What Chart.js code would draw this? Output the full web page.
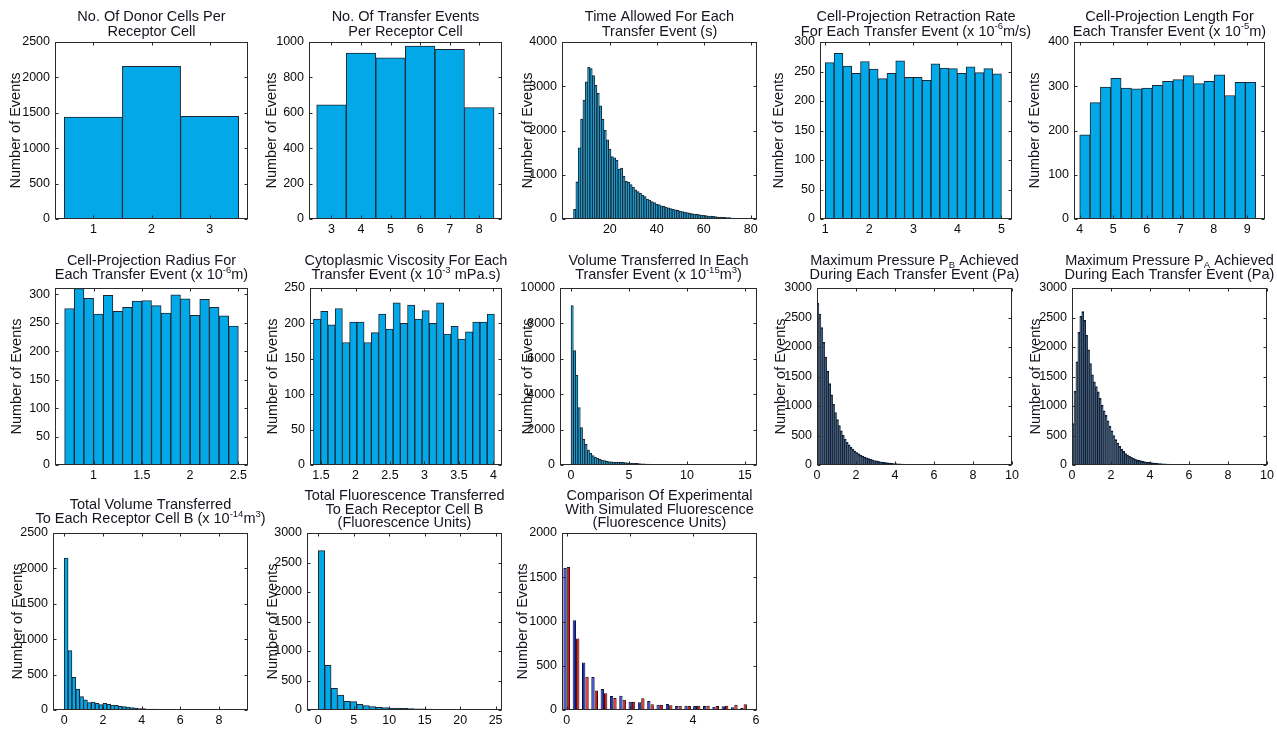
<!DOCTYPE html>
<html><head><meta charset="utf-8">
<script src="https://cdn.jsdelivr.net/npm/chart.js@4.4.0/dist/chart.umd.min.js"></script>
<style>
html,body{margin:0;padding:0;background:#fff;}
#wrap{position:relative;width:1277px;height:729px;overflow:hidden;background:#fff;}
#wrap canvas{position:absolute;}
</style></head><body><div id="wrap"></div>
<script>
// ---------------- DATA ----------------
// 1. No. of donor cells per receptor cell
const donorBins = [1, 2, 3];
const donorCounts = [1441, 2157, 1450];
const donorXTicks = [1, 2, 3];
const donorYTicks = [0, 500, 1000, 1500, 2000, 2500];

// 2. No. of transfer events per receptor cell
const eventsBins = [3, 4, 5, 6, 7, 8];
const eventsCounts = [645, 938, 911, 977, 958, 630];
const eventsXTicks = [3, 4, 5, 6, 7, 8];
const eventsYTicks = [0, 200, 400, 600, 800, 1000];

// 3. Time allowed for each transfer event (s), bins of 1 s starting at 4.5
const timeBinStart = 4.5, timeBinWidth = 1;
const timeCounts = [220, 840, 1610, 2260, 2690, 3100, 3430, 3400, 3240, 3020, 2840, 2560, 2250, 2010, 1790, 1580,
  1410, 1380, 1330, 1130, 1150, 970, 850, 830, 780, 720, 660, 620, 580, 540, 505, 450, 430, 395, 370, 340, 325,
  300, 285, 270, 255, 235, 220, 210, 195, 180, 165, 158, 143, 128, 120, 112, 105, 98, 90, 83, 75, 68, 68, 60, 53,
  45, 45, 38, 38, 30, 30, 23, 20, 15, 12, 10, 8, 6];
const timeXTicks = [20, 40, 60, 80];
const timeYTicks = [0, 1000, 2000, 3000, 4000];

// 4. Retraction rate (x 1e-6 m/s)
const rateBinStart = 1.0, rateBinWidth = 0.2;
const rateCounts = [265, 281, 259, 247, 267, 254, 238, 247, 268, 240, 240, 235, 263, 256, 255, 247, 258, 248, 255, 246];
const rateXTicks = [1, 2, 3, 4, 5];
const rateYTicks = [0, 50, 100, 150, 200, 250, 300];

// 5. Length (x 1e-5 m)
const lengthBinStart = 4.0, lengthBinWidth = 0.309;
const lengthCounts = [190, 263, 298, 318, 296, 294, 296, 302, 311, 315, 324, 306, 311, 326, 279, 309, 309];
const lengthXTicks = [4, 5, 6, 7, 8, 9];
const lengthYTicks = [0, 100, 200, 300, 400];

// 6. Radius (x 1e-6 m)
const radiusBinStart = 0.7, radiusBinWidth = 0.1;
const radiusCounts = [275, 310, 293, 265, 298, 270, 277, 288, 289, 280, 267, 299, 292, 263, 291, 277, 262, 244];
const radiusXTicks = [1, 1.5, 2, 2.5];
const radiusYTicks = [0, 50, 100, 150, 200, 250, 300];

// 7. Viscosity (x 1e-3 mPa.s)
const viscBinStart = 1.39, viscBinWidth = 0.105;
const viscCounts = [206, 217, 198, 221, 173, 202, 202, 173, 187, 213, 192, 229, 200, 226, 206, 218, 200, 229, 185,
  196, 178, 188, 202, 202, 213];
const viscXTicks = [1.5, 2, 2.5, 3, 3.5, 4];
const viscYTicks = [0, 50, 100, 150, 200, 250];

// 8. Volume transferred in each event (x 1e-15 m3)
const volBinStart = 0, volBinWidth = 0.2;
const volCounts = [9000, 6470, 5060, 3250, 2110, 1450, 1170, 850, 660, 530, 450, 380, 320, 280, 245, 220, 200, 185,
  170, 160, 160, 150, 145, 135, 125, 115, 105, 95, 88, 80, 72, 65, 58, 50, 44, 38, 32, 27, 20, 16, 13, 11, 9, 8, 7,
  6, 5, 5, 4, 4, 3, 3, 3, 2, 2, 2, 2, 1, 1, 2, 1, 1, 1, 1, 2, 1, 1, 1, 1, 0, 1, 1, 1, 1, 1, 1];
const volXTicks = [0, 5, 10, 15];
const volYTicks = [0, 2000, 4000, 6000, 8000, 10000];

// 9. Maximum pressure PB (Pa)
const pbBinStart = 0, pbBinWidth = 0.1;
const pbCounts = [2740, 2560, 2330, 2080, 1830, 1590, 1380, 1190, 1030, 890, 770, 670, 580, 505, 440, 385, 340, 300,
  265, 235, 210, 188, 168, 150, 134, 120, 107, 96, 86, 77, 69, 62, 55, 49, 44, 39, 35, 31, 28, 25, 22, 20, 18, 16,
  14, 13, 12, 11, 10, 9, 8, 7, 7, 6, 6, 5, 5, 4, 4, 4, 3, 3, 3, 3, 2, 2, 2, 2, 2, 1, 1, 1, 1, 1, 1, 1, 0, 1, 0, 1, 1];
const pbXTicks = [0, 2, 4, 6, 8, 10];
const pbYTicks = [0, 500, 1000, 1500, 2000, 2500, 3000];

// 10. Maximum pressure PA (Pa)
const paBinStart = 0, paBinWidth = 0.1;
const paCounts = [700, 1250, 1750, 2250, 2520, 2600, 2450, 2200, 1950, 1720, 1530, 1410, 1330, 1240, 1130, 1010, 920,
  840, 750, 660, 580, 500, 430, 370, 315, 270, 230, 195, 168, 146, 128, 113, 100, 88, 78, 70, 62, 55, 49, 44, 39, 35,
  31, 28, 25, 22, 20, 18, 16, 14, 12, 11, 10, 9, 8, 7, 6, 6, 5, 5, 4, 4, 3, 3, 3, 2, 2, 2, 2, 1, 1, 1, 1, 1, 0, 1];
const paXTicks = [0, 2, 4, 6, 8, 10];
const paYTicks = [0, 500, 1000, 1500, 2000, 2500, 3000];

// 11. Total volume to each receptor cell B (x 1e-14 m3)
const totVolBinStart = 0, totVolBinWidth = 0.2;
const totVolCounts = [2146, 840, 462, 297, 189, 142, 104, 113, 94, 75, 94, 80, 71, 66, 52, 47, 42, 33, 28, 19, 19, 14,
  14, 14, 9, 6, 5, 5, 4, 3, 3, 3, 2, 2, 2, 2, 1, 2, 1, 1, 1, 1, 1, 1, 1, 1];
const totVolXTicks = [0, 2, 4, 6, 8];
const totVolYTicks = [0, 500, 1000, 1500, 2000, 2500];

// 12. Total fluorescence to each receptor cell B (fluorescence units)
const fluoBinStart = 0, fluoBinWidth = 0.9;
const fluoCounts = [2700, 758, 368, 255, 147, 141, 96, 74, 57, 45, 40, 34, 34, 28, 23, 20, 18, 15, 12, 10, 8, 6, 5, 4,
  3, 3, 2, 2];
const fluoXTicks = [0, 5, 10, 15, 20, 25];
const fluoYTicks = [0, 500, 1000, 1500, 2000, 2500, 3000];

// 13. Comparison of experimental (blue) with simulated (red) fluorescence
const compBins = [0, 0.295, 0.59, 0.885, 1.18, 1.475, 1.77, 2.065, 2.36, 2.655, 2.95, 3.245, 3.54, 3.835, 4.13,
  4.425, 4.72, 5.015, 5.31, 5.605];
const compExperimental = [1604, 1015, 536, 374, 238, 158, 162, 94, 87, 102, 60, 68, 45, 49, 45, 45, 38, 42, 30, 23];
const compSimulated = [1615, 808, 377, 219, 189, 136, 117, 94, 132, 64, 60, 53, 49, 49, 49, 49, 45, 49, 60, 64];
const compXTicks = [0, 2, 4, 6];
const compYTicks = [0, 500, 1000, 1500, 2000];

// ---------------- RENDERING ----------------
const FONT = "'Liberation Sans', Arial, Helvetica, sans-serif";
const TEXT = '#15151f';
const CYAN = '#03a8e8', EDGE = '#1c2530';
const NAVY = '#0b2a4e', NAVY_EDGE = '#0a1c34';

function binCenters(start, width, n) {
  const out = [];
  for (let i = 0; i < n; i++) out.push(+(start + width * (i + 0.5)).toFixed(4));
  return out;
}

function parseRich(line) {
  const parts = line.split(/(\^\{[^}]*\}|_\{[^}]*\})/).filter(s => s.length);
  return parts.map(s => {
    if (s.startsWith('^{')) return {t: s.slice(2, -1), kind: 'sup'};
    if (s.startsWith('_{')) return {t: s.slice(2, -1), kind: 'sub'};
    return {t: s, kind: 'n'};
  });
}

const richTitle = {
  id: 'richTitle',
  afterDraw(chart, args, opts) {
    const lines = opts.lines;
    if (!lines) return;
    const {ctx, chartArea} = chart;
    const cx = (chartArea.left + chartArea.right) / 2;
    ctx.save();
    ctx.fillStyle = TEXT;
    ctx.textBaseline = 'middle';
    ctx.textAlign = 'left';
    const n = lines.length;
    lines.forEach((line, i) => {
      const cy = chartArea.top - opts.gap - (n - 1 - i) * opts.step;
      const segs = parseRich(line);
      let total = 0;
      segs.forEach(s => {
        ctx.font = (s.kind === 'n' ? '14.5px ' : '9.5px ') + FONT;
        s.w = ctx.measureText(s.t).width;
        total += s.w;
      });
      let x = cx - total / 2;
      segs.forEach(s => {
        ctx.font = (s.kind === 'n' ? '14.5px ' : '9.5px ') + FONT;
        const dy = s.kind === 'sup' ? -5 : (s.kind === 'sub' ? 5 : 0);
        ctx.fillText(s.t, x, cy + dy);
        x += s.w;
      });
    });
    ctx.restore();
  }
};

const matlabBox = {
  id: 'matlabBox',
  afterDatasetsDraw(chart) {
    const {ctx, chartArea, scales} = chart;
    const L = Math.round(chartArea.left) + 0.5, T = Math.round(chartArea.top) + 0.5;
    const R = Math.round(chartArea.right) - 0.5, B = Math.round(chartArea.bottom) - 0.5;
    ctx.save();
    ctx.strokeStyle = '#2a2a2a';
    ctx.lineWidth = 1;
    ctx.strokeRect(L, T, R - L, B - T);
    ctx.beginPath();
    const tk = 3;
    scales.x.ticks.forEach(t => {
      const px = Math.round(scales.x.getPixelForValue(t.value)) + 0.5;
      ctx.moveTo(px, B); ctx.lineTo(px, B - tk);
      ctx.moveTo(px, T); ctx.lineTo(px, T + tk);
    });
    scales.y.ticks.forEach(t => {
      const py = Math.round(scales.y.getPixelForValue(t.value)) + 0.5;
      ctx.moveTo(L, py); ctx.lineTo(L + tk, py);
      ctx.moveTo(R, py); ctx.lineTo(R - tk, py);
    });
    ctx.stroke();
    ctx.restore();
  }
};

const ROW1 = {gap: 10.3, step: 15};
const ROW2 = {gap: 13, step: 14.3};
const ROW3 = {gap: 13.7, step: 14.3};
const ROW3B = {gap: 9.7, step: 13.7};

const hist = (x, y, fill, border) => ({x, y, fill: fill || CYAN, border: border || EDGE});

const panels = [
  {box: [55, 42, 248, 219], yw: 48, t: ROW1, title: ['No. Of Donor Cells Per', 'Receptor Cell'],
   xr: [0.34, 3.66], yr: [0, 2500], xt: donorXTicks, yt: donorYTicks,
   series: [hist(donorBins, donorCounts)]},
  {box: [309, 42, 502, 219], yw: 46, t: ROW1, title: ['No. Of Transfer Events', 'Per Receptor Cell'],
   xr: [2.24, 8.77], yr: [0, 1000], xt: eventsXTicks, yt: eventsYTicks,
   series: [hist(eventsBins, eventsCounts)]},
  {box: [562, 42, 757, 219], yw: 43, t: ROW1, title: ['Time Allowed For Each', 'Transfer Event (s)'],
   xr: [-0.4, 82.7], yr: [0, 4000], xt: timeXTicks, yt: timeYTicks,
   series: [hist(binCenters(timeBinStart, timeBinWidth, timeCounts.length), timeCounts)]},
  {box: [820, 42, 1012, 219], yw: 50, t: ROW1, title: ['Cell-Projection Retraction Rate', 'For Each Transfer Event (x 10^{-6}m/s)'],
   xr: [0.88, 5.24], yr: [0, 300], xt: rateXTicks, yt: rateYTicks,
   series: [hist(binCenters(rateBinStart, rateBinWidth, rateCounts.length), rateCounts)]},
  {box: [1074, 42, 1265, 219], yw: 48, t: ROW1, title: ['Cell-Projection Length For', 'Each Transfer Event (x 10^{-5}m)'],
   xr: [3.83, 9.53], yr: [0, 400], xt: lengthXTicks, yt: lengthYTicks,
   series: [hist(binCenters(lengthBinStart, lengthBinWidth, lengthCounts.length), lengthCounts)]},

  {box: [55, 288, 248, 465], yw: 47, t: ROW2, title: ['Cell-Projection Radius For', 'Each Transfer Event (x 10^{-6}m)'],
   xr: [0.6, 2.6], yr: [0, 311], xt: radiusXTicks, yt: radiusYTicks,
   series: [hist(binCenters(radiusBinStart, radiusBinWidth, radiusCounts.length), radiusCounts)]},
  {box: [310, 288, 502, 465], yw: 46, t: ROW2, title: ['Cytoplasmic Viscosity For Each', 'Transfer Event (x 10^{-3} mPa.s)'],
   xr: [1.34, 4.125], yr: [0, 250], xt: viscXTicks, yt: viscYTicks,
   series: [hist(binCenters(viscBinStart, viscBinWidth, viscCounts.length), viscCounts)]},
  {box: [560, 288, 757, 465], yw: 41, t: ROW2, title: ['Volume Transferred In Each', 'Transfer Event (x 10^{-15}m^{3})'],
   xr: [-0.95, 16.05], yr: [0, 10000], xt: volXTicks, yt: volYTicks,
   series: [hist(binCenters(volBinStart, volBinWidth, volCounts.length), volCounts)]},
  {box: [817, 288, 1012, 465], yw: 45, t: ROW2, title: ['Maximum Pressure P_{B} Achieved', 'During Each Transfer Event (Pa)'],
   xr: [0, 10], yr: [0, 3000], xt: pbXTicks, yt: pbYTicks,
   series: [hist(binCenters(pbBinStart, pbBinWidth, pbCounts.length), pbCounts, NAVY, NAVY_EDGE)]},
  {box: [1072, 288, 1267, 465], yw: 45, t: ROW2, title: ['Maximum Pressure P_{A} Achieved', 'During Each Transfer Event (Pa)'],
   xr: [0, 10], yr: [0, 3000], xt: paXTicks, yt: paYTicks,
   series: [hist(binCenters(paBinStart, paBinWidth, paCounts.length), paCounts, NAVY, NAVY_EDGE)]},

  {box: [53, 533, 248, 710], yw: 44, t: ROW3, title: ['Total Volume Transferred', 'To Each Receptor Cell B (x 10^{-14}m^{3})'],
   xr: [-0.58, 9.5], yr: [0, 2500], xt: totVolXTicks, yt: totVolYTicks,
   series: [hist(binCenters(totVolBinStart, totVolBinWidth, totVolCounts.length), totVolCounts)]},
  {box: [307, 533, 502, 710], yw: 43, t: ROW3B, title: ['Total Fluorescence Transferred', 'To Each Receptor Cell B', '(Fluorescence Units)'],
   xr: [-1.6, 25.9], yr: [0, 3000], xt: fluoXTicks, yt: fluoYTicks,
   series: [hist(binCenters(fluoBinStart, fluoBinWidth, fluoCounts.length), fluoCounts)]},
  {box: [562, 533, 757, 710], yw: 48, t: ROW3B, title: ['Comparison Of Experimental', 'With Simulated Fluorescence', '(Fluorescence Units)'],
   xr: [-0.15, 6.03], yr: [0, 2000], xt: compXTicks, yt: compYTicks, cat: 0.72,
   series: [hist(compBins, compExperimental, '#1a2fd2', '#0c0f2a'), hist(compBins, compSimulated, '#e21212', '#2a0a0a')]}
];

const wrap = document.getElementById('wrap');
const TOP = 50, RIGHT = 28, BOTTOM = 26;

panels.forEach(p => {
  const [l, t, r, b] = p.box;
  const W = p.yw;
  const cv = document.createElement('canvas');
  cv.width = W + (r - l) + RIGHT;
  cv.height = TOP + (b - t) + BOTTOM;
  cv.style.left = (l - W) + 'px';
  cv.style.top = (t - TOP) + 'px';
  wrap.appendChild(cv);
  const tickFont = {family: FONT, size: 12.5};
  new Chart(cv, {
    type: 'bar',
    data: {
      datasets: p.series.map(s => ({
        data: s.x.map((x, i) => ({x: x, y: s.y[i]})),
        backgroundColor: s.fill, borderColor: s.border, borderWidth: 1,
        barPercentage: 1, categoryPercentage: p.cat || 1
      }))
    },
    options: {
      responsive: false, animation: false, events: [],
      layout: {padding: {top: TOP, right: RIGHT, left: 0, bottom: 0}},
      plugins: {
        legend: {display: false}, tooltip: {enabled: false}, title: {display: false},
        richTitle: {lines: p.title, gap: p.t.gap, step: p.t.step}
      },
      scales: {
        x: {
          type: 'linear', min: p.xr[0], max: p.xr[1], offset: false,
          afterBuildTicks: s => { s.ticks = p.xt.map(v => ({value: v})); },
          afterFit: s => { s.height = BOTTOM; },
          grid: {display: false, drawTicks: false}, border: {display: false},
          ticks: {padding: 3.5, maxRotation: 0, autoSkip: false, color: '#0a0a0a', font: tickFont,
                  callback: v => String(v)}
        },
        y: {
          type: 'linear', min: p.yr[0], max: p.yr[1],
          afterBuildTicks: s => { s.ticks = p.yt.map(v => ({value: v})); },
          afterFit: s => { s.width = W; },
          grid: {display: false, drawTicks: false}, border: {display: false},
          ticks: {padding: 5, autoSkip: false, color: '#0a0a0a', font: tickFont, callback: v => String(v)},
          title: {display: true, text: 'Number of Events', color: TEXT, padding: 0,
                  font: {family: FONT, size: 14.5}}
        }
      }
    },
    plugins: [richTitle, matlabBox]
  });
});
</script></body></html>
